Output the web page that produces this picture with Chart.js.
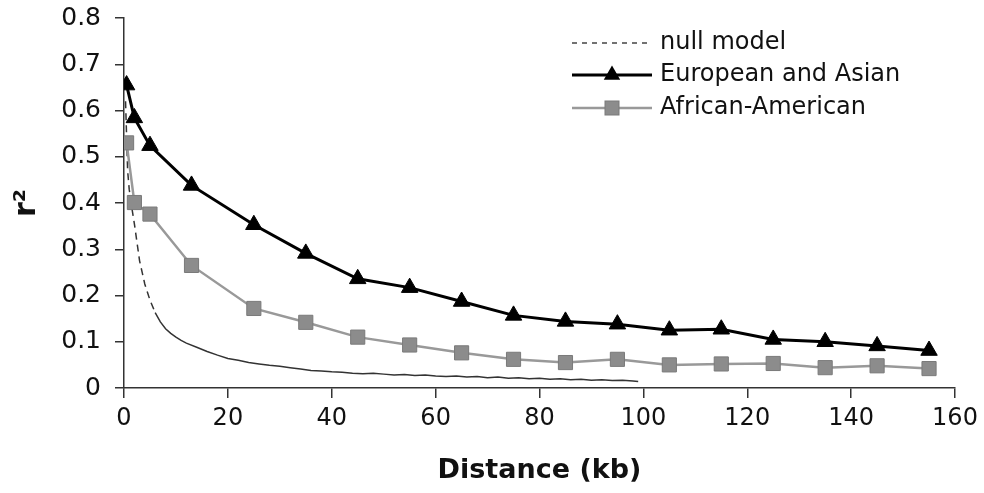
<!DOCTYPE html>
<html>
<head>
<meta charset="utf-8">
<script src="https://cdn.jsdelivr.net/npm/chart.js@4.4.1/dist/chart.umd.min.js"></script>
<style>
html,body{margin:0;padding:0;background:#fff;}
#wrap{width:984px;height:493px;position:relative;}
</style>
</head>
<body>
<div id="wrap"><canvas id="c" width="984" height="493"></canvas></div>
<script>
// ---- data ----
const distances = [0.5, 2, 5, 13, 25, 35, 45, 55, 65, 75, 85, 95, 105, 115, 125, 135, 145, 155];
const europeanAsian = [0.655, 0.584, 0.524, 0.438, 0.353, 0.291, 0.236, 0.217, 0.187, 0.157, 0.144, 0.138, 0.125, 0.127, 0.105, 0.100, 0.091, 0.081];
const africanAmerican = [0.530, 0.401, 0.376, 0.265, 0.172, 0.142, 0.110, 0.093, 0.076, 0.062, 0.055, 0.062, 0.050, 0.052, 0.053, 0.044, 0.048, 0.042];
const nullX = [0.3, 0.7, 1, 1.5, 2, 2.5, 3, 3.5, 4, 5, 6, 7, 8, 9, 10, 11, 12,
  14, 16, 18, 20, 22, 24, 26, 28, 30, 32, 34, 36, 38, 40, 42, 44, 46, 48, 50, 52, 54, 56, 58,
  60, 62, 64, 66, 68, 70, 72, 74, 76, 78, 80, 82, 84, 86, 88, 90, 92, 94, 96, 98, 99];
const nullY = [0.62, 0.47, 0.43, 0.39, 0.355, 0.315, 0.275, 0.25, 0.225, 0.19, 0.163, 0.143, 0.128, 0.118, 0.110, 0.103, 0.097,
  0.088, 0.079, 0.071, 0.064, 0.060, 0.055, 0.052, 0.049, 0.047, 0.044, 0.041, 0.038, 0.037,
  0.035, 0.034, 0.032, 0.031, 0.032, 0.030, 0.028, 0.029, 0.027, 0.028,
  0.026, 0.025, 0.026, 0.024, 0.025, 0.022, 0.024, 0.021, 0.022, 0.020,
  0.021, 0.019, 0.020, 0.018, 0.019, 0.017, 0.018, 0.016, 0.017, 0.015, 0.014];
const seriesNames = ['null model', 'European and Asian', 'African-American'];
const xTitle = 'Distance (kb)';
const yTitle = 'r\u00B2';

const FONT = 'DejaVu Sans, Verdana, sans-serif';
const AX = '#333';

const pts = (xs, ys) => xs.map((x, i) => ({x: x, y: ys[i]}));

const legendPlugin = {
  id: 'customLegend',
  afterDraw(chart) {
    const ctx = chart.ctx;
    const rows = [
      {label: seriesNames[0], y: 43, draw: (x0, x1, y) => {
        ctx.save(); ctx.strokeStyle = '#444'; ctx.lineWidth = 1.3; ctx.setLineDash([5, 5]);
        ctx.beginPath(); ctx.moveTo(x0, y); ctx.lineTo(x1, y); ctx.stroke(); ctx.restore();
      }},
      {label: seriesNames[1], y: 75, draw: (x0, x1, y) => {
        ctx.save(); ctx.strokeStyle = '#000'; ctx.lineWidth = 3;
        ctx.beginPath(); ctx.moveTo(x0, y); ctx.lineTo(x1, y); ctx.stroke();
        const cx = (x0 + x1) / 2, r = 9.5;
        ctx.fillStyle = '#000'; ctx.beginPath();
        ctx.moveTo(cx, y - r); ctx.lineTo(cx + r * 0.866, y + r / 2); ctx.lineTo(cx - r * 0.866, y + r / 2);
        ctx.closePath(); ctx.fill(); ctx.restore();
      }},
      {label: seriesNames[2], y: 108, draw: (x0, x1, y) => {
        ctx.save(); ctx.strokeStyle = '#999'; ctx.lineWidth = 2.5;
        ctx.beginPath(); ctx.moveTo(x0, y); ctx.lineTo(x1, y); ctx.stroke();
        const cx = (x0 + x1) / 2, s = 7;
        ctx.fillStyle = '#8c8c8c'; ctx.strokeStyle = '#7a7a7a'; ctx.lineWidth = 1;
        ctx.fillRect(cx - s, y - s, 2 * s, 2 * s); ctx.strokeRect(cx - s, y - s, 2 * s, 2 * s);
        ctx.restore();
      }}
    ];
    ctx.save();
    ctx.font = '24px ' + FONT;
    ctx.fillStyle = '#111';
    ctx.textBaseline = 'middle';
    ctx.textAlign = 'left';
    rows.forEach(r => {
      r.draw(572, 652, r.y);
      ctx.fillText(r.label, 660, r.y);
    });
    ctx.restore();
  }
};

new Chart(document.getElementById('c'), {
  type: 'line',
  data: {
    datasets: [
      {
        label: seriesNames[0],
        data: pts(nullX, nullY),
        borderColor: '#333',
        borderWidth: 1.5,
        pointRadius: 0,
        tension: 0,
        order: 3,
        segment: {
          borderDash: c => (c.p0.parsed.x < 6 ? [7, 5] : [])
        }
      },
      {
        label: seriesNames[1],
        data: pts(distances, europeanAsian),
        borderColor: '#000',
        borderWidth: 3,
        pointStyle: 'triangle',
        pointRadius: 9.5,
        pointBackgroundColor: '#000',
        pointBorderColor: '#000',
        pointBorderWidth: 1,
        tension: 0,
        order: 1
      },
      {
        label: seriesNames[2],
        data: pts(distances, africanAmerican),
        borderColor: '#999',
        borderWidth: 2.5,
        pointStyle: 'rect',
        pointRadius: 10,
        pointBackgroundColor: '#8c8c8c',
        pointBorderColor: '#7a7a7a',
        pointBorderWidth: 1,
        tension: 0,
        order: 2
      }
    ]
  },
  options: {
    responsive: false,
    animation: false,
    events: [],
    layout: {padding: {left: 0, top: 18, right: 29, bottom: 0}},
    plugins: {legend: {display: false}, tooltip: {enabled: false}},
    scales: {
      x: {
        type: 'linear',
        min: 0, max: 160,
        ticks: {stepSize: 20, color: '#111', font: {family: FONT, size: 24}, padding: 6, maxRotation: 0},
        grid: {drawOnChartArea: false, drawTicks: true, tickLength: 10, color: AX, lineWidth: 1.5},
        border: {display: true, color: AX, width: 1.5},
        title: {display: true, text: xTitle, color: '#111', font: {family: FONT, size: 27, weight: 'bold'}, padding: {top: 0, bottom: 6}},
        afterFit: s => { s.height = 105; s.paddingLeft = 0; s.paddingRight = 0; }
      },
      y: {
        type: 'linear',
        min: 0, max: 0.8,
        ticks: {stepSize: 0.1, color: '#111', font: {family: FONT, size: 25}, padding: 14,
          callback: v => (Math.abs(v) < 1e-9 ? '0' : v.toFixed(1))},
        grid: {drawOnChartArea: false, drawTicks: true, tickLength: 9, color: AX, lineWidth: 1.5},
        border: {display: true, color: AX, width: 1.5},
        title: {display: true, text: yTitle, color: '#111', font: {family: FONT, size: 30, weight: 'bold'}, padding: {top: 9, bottom: 0}},
        afterFit: s => { s.width = 124; s.paddingTop = 0; s.paddingBottom = 0; }
      }
    }
  },
  plugins: [legendPlugin]
});
</script>
</body>
</html>
